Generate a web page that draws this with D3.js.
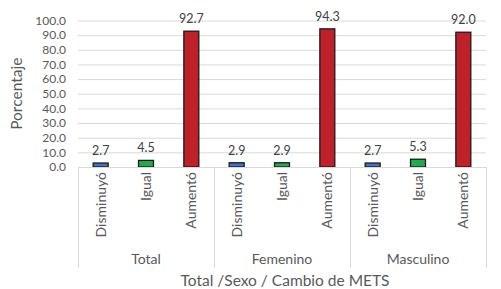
<!DOCTYPE html>
<html><head><meta charset="utf-8">
<script src="https://cdn.jsdelivr.net/npm/d3@7"></script>
<style>body{margin:0;background:#fff}svg{display:block}text{font-family:Lato,"Liberation Sans",sans-serif;fill:#595959}</style>
</head><body><svg id="c" width="501" height="289"></svg>
<script>
const groups = ["Total", "Femenino", "Masculino"];
const changes = ["Disminuyó", "Igual", "Aumentó"];
const values = [
  [2.7, 4.5, 92.7],
  [2.9, 2.9, 94.3],
  [2.7, 5.3, 92.0]
];
const colors = ["#4472C4", "#1EAD4B", "#C0202A"];
const yTicks = [0, 10, 20, 30, 40, 50, 60, 70, 80, 90, 100];
const yTitle = "Porcentaje";
const xTitle = "Total /Sexo / Cambio de METS";

const svg = d3.select("#c");
const L = 78, R = 486, T = 20.5, B = 167;
const y = d3.scaleLinear().domain([0, 100]).range([B, T]);
const xg = d3.scaleBand().domain(groups).range([L, R]).padding(0);
const xc = d3.scaleBand().domain(changes).range([0, xg.bandwidth()]).paddingInner(0.67).paddingOuter(0.335);

// gridlines
svg.append("g").selectAll("line").data(yTicks).join("line")
  .attr("x1", L).attr("x2", R).attr("y1", d => y(d) + 0.5).attr("y2", d => y(d) + 0.5)
  .attr("stroke", "#d9d9d9").attr("stroke-width", 1);

// y tick labels
svg.append("g").selectAll("text").data(yTicks).join("text")
  .attr("x", 66).attr("y", d => y(d)).attr("dy", "0.35em").attr("text-anchor", "end")
  .style("font-size", "12px").text(d => d.toFixed(1));

// bars
const flat = [];
values.forEach((row, gi) => row.forEach((v, ci) => flat.push({g: groups[gi], c: changes[ci], ci, v})));
svg.append("g").selectAll("rect").data(flat).join("rect")
  .attr("x", d => xg(d.g) + xc(d.c)).attr("width", xc.bandwidth())
  .attr("y", d => y(d.v)).attr("height", d => y(0) - y(d.v))
  .attr("fill", d => colors[d.ci]).attr("stroke", "#1a1a1a").attr("stroke-width", 1.3);

// data labels
svg.append("g").selectAll("text").data(flat).join("text")
  .attr("x", d => xg(d.g) + xc(d.c) + xc.bandwidth() / 2).attr("y", d => y(d.v) - 8)
  .attr("text-anchor", "middle").style("font-size", "12.5px").style("fill", "#404040")
  .text(d => d.v.toFixed(1));

// x axis line and separators
svg.append("line").attr("x1", L).attr("x2", R).attr("y1", B + 0.5).attr("y2", B + 0.5).attr("stroke", "#d9d9d9");
const seps = [L].concat(groups.map(g => xg(g) + xg.bandwidth()));
svg.append("g").selectAll("line").data(seps).join("line")
  .attr("x1", d => d + 0.5).attr("x2", d => d + 0.5).attr("y1", B).attr("y2", 268)
  .attr("stroke", "#d9d9d9");

// category labels (rotated)
svg.append("g").selectAll("text").data(flat).join("text")
  .attr("transform", d => `translate(${xg(d.g) + xc(d.c) + xc.bandwidth() / 2},172) rotate(-90)`)
  .attr("text-anchor", "end").attr("dy", "0.35em").style("font-size", "14px")
  .text(d => d.c);

// group labels
svg.append("g").selectAll("text").data(groups).join("text")
  .attr("x", d => xg(d) + xg.bandwidth() / 2).attr("y", 259).attr("dy", "0.35em")
  .attr("text-anchor", "middle").style("font-size", "14px").text(d => d);

// axis titles
svg.append("text").attr("x", L + (R - L) / 2 + 3).attr("y", 281).attr("dy", "0.35em")
  .attr("text-anchor", "middle").style("font-size", "15.5px").text(xTitle);
svg.append("text").attr("transform", `translate(17,${(T + B) / 2}) rotate(-90)`).attr("dy", "0.35em")
  .attr("text-anchor", "middle").style("font-size", "15.5px").text(yTitle);
</script></body></html>
